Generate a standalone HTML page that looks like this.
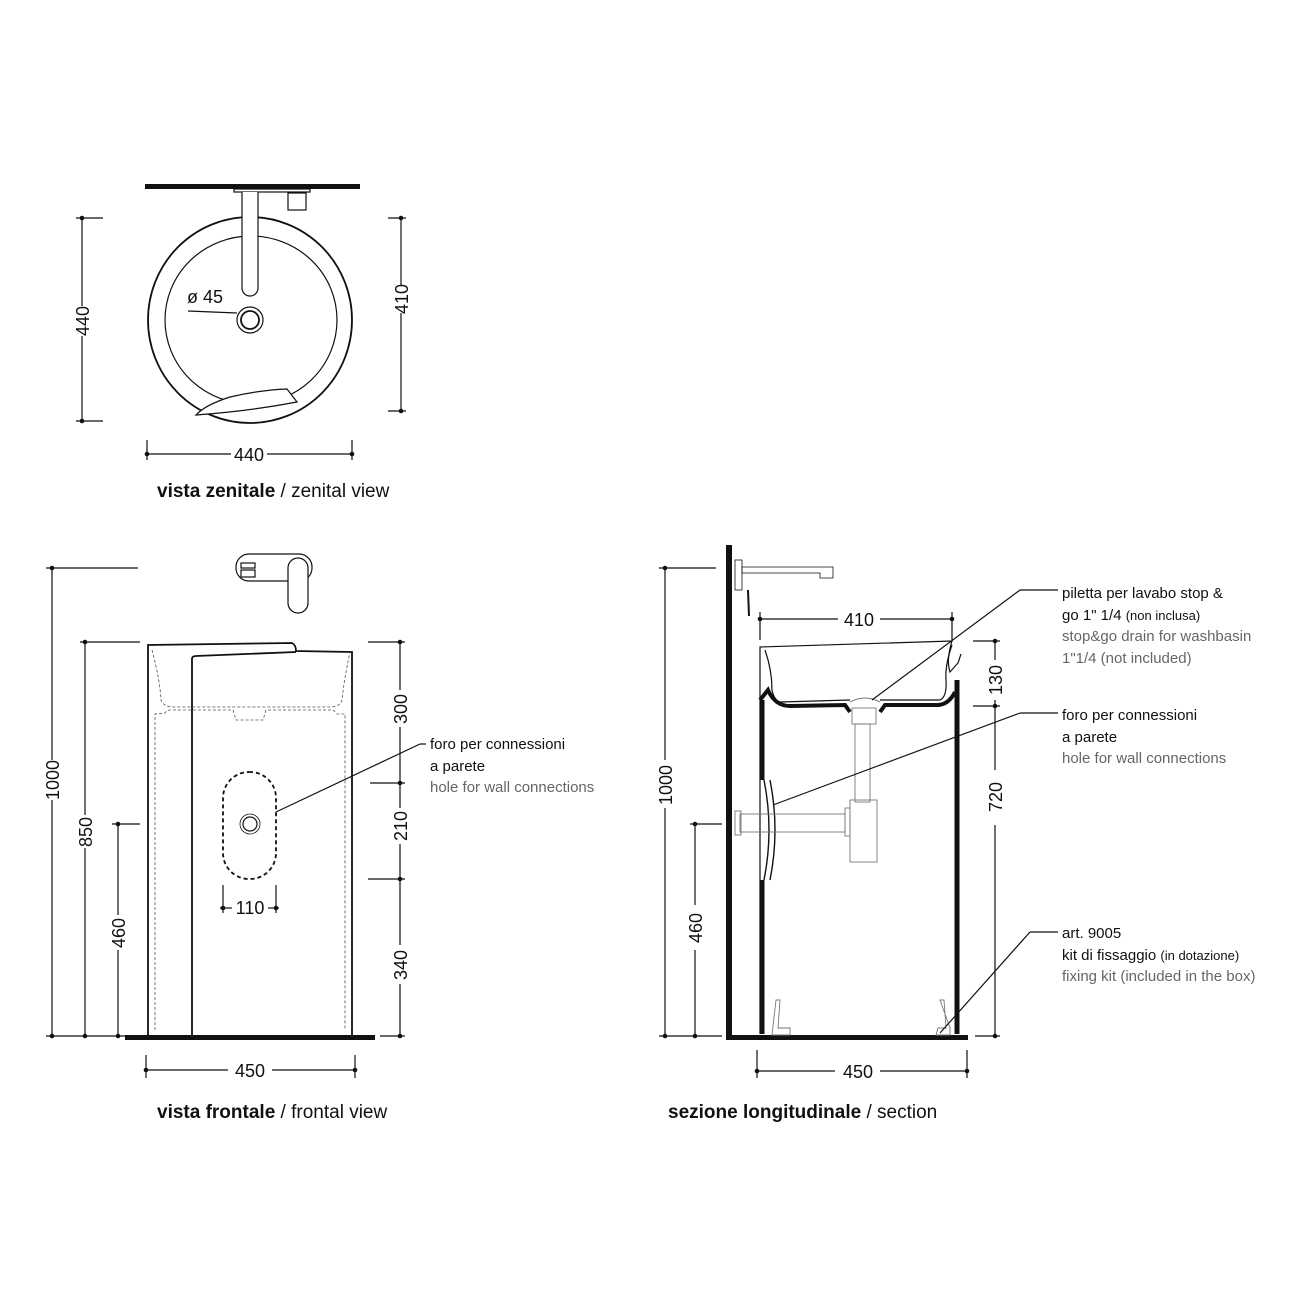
<!DOCTYPE html>
<html><head><meta charset="utf-8"><style>
html,body{margin:0;padding:0;background:#fff}
svg{display:block}
text{font-family:"Liberation Sans",sans-serif;fill:#111}
.d{font-size:18px}
.n{font-size:15px}
.g{fill:#666}
.c{font-size:19px}
</style></head><body>
<svg width="1300" height="1300" viewBox="0 0 1300 1300" xmlns="http://www.w3.org/2000/svg">
<defs>
<g id="dot"><circle r="2.5" fill="#111"/></g>
</defs>
<g stroke="#111" fill="none" stroke-width="1.2">
<!-- ===== TOP VIEW ===== -->
<rect x="145" y="184" width="215" height="5" fill="#111" stroke="none"/>
<rect x="234" y="189" width="76" height="3" fill="#fff"/>
<rect x="288" y="193" width="18" height="17" fill="#fff"/>
<ellipse cx="250" cy="320" rx="102" ry="103" stroke-width="1.8"/>
<ellipse cx="251" cy="320" rx="86" ry="84"/>
<path d="M242 192 V288 A8 8 0 0 0 258 288 V192" fill="#fff"/>
<circle cx="250" cy="320" r="13"/><circle cx="250" cy="320" r="9" stroke-width="1.8"/>
<line x1="188" y1="311" x2="237" y2="313"/>
<path d="M196 415 Q205 405 230 397 Q260 390 287 389 L297 402 Q250 411 196 415 Z" fill="#fff"/>
<!-- top dims -->
<line x1="82" y1="218" x2="82" y2="306"/><line x1="82" y1="336" x2="82" y2="421"/>
<line x1="76" y1="218" x2="103" y2="218"/><line x1="76" y1="421" x2="103" y2="421"/>
<line x1="401" y1="218" x2="401" y2="285"/><line x1="401" y1="313" x2="401" y2="411"/>
<line x1="388" y1="218" x2="406" y2="218"/><line x1="388" y1="411" x2="406" y2="411"/>
<line x1="147" y1="454" x2="231" y2="454"/><line x1="267" y1="454" x2="352" y2="454"/>
<line x1="147" y1="440" x2="147" y2="460"/><line x1="352" y1="440" x2="352" y2="460"/>

<!-- ===== FRONTAL VIEW ===== -->
<rect x="125" y="1035" width="250" height="5" fill="#111" stroke="none"/>
<rect x="236" y="554" width="76" height="27" rx="13" fill="#fff"/>
<rect x="241" y="563" width="14" height="5"/><rect x="241" y="570" width="14" height="7"/>
<rect x="288" y="558" width="20" height="55" rx="10" fill="#fff"/>
<path d="M148 1035 V645 L292 643 Q296 645 296 651 L352 652 V1035" stroke-width="1.8"/>
<path d="M192 1035 V659 Q192 656 196 656 L296 652" stroke-width="1.8"/>
<g stroke-dasharray="3 2" stroke-width="0.8" stroke="#555">
<path d="M152 650 Q160 680 161 700 Q163 707 175 707 H330 Q340 707 342 700 Q344 680 350 652"/>
<path d="M155 1030 V714 L165 713 Q167 710 170 710 L233 710 L236 720 H263 L266 710 H333 L337 714 L345 714 V1030"/>
</g>
<rect x="223" y="772" width="53" height="107" rx="26" stroke-dasharray="4 3" stroke-width="1.8"/>
<circle cx="250" cy="824" r="10" stroke-width="0.8"/><circle cx="250" cy="824" r="7"/>
<line x1="276" y1="812" x2="420" y2="744"/><line x1="420" y1="744" x2="426" y2="744"/>
<!-- frontal dims -->
<line x1="52" y1="568" x2="52" y2="760"/><line x1="52" y1="800" x2="52" y2="1036"/>
<line x1="46" y1="568" x2="138" y2="568"/>
<line x1="85" y1="642" x2="85" y2="815"/><line x1="85" y1="848" x2="85" y2="1036"/>
<line x1="80" y1="642" x2="140" y2="642"/>
<line x1="118" y1="824" x2="118" y2="915"/><line x1="118" y1="950" x2="118" y2="1036"/>
<line x1="112" y1="824" x2="140" y2="824"/>
<line x1="46" y1="1036" x2="125" y2="1036"/>
<line x1="400" y1="642" x2="400" y2="690"/><line x1="400" y1="727" x2="400" y2="808"/>
<line x1="400" y1="844" x2="400" y2="945"/><line x1="400" y1="984" x2="400" y2="1036"/>
<line x1="368" y1="642" x2="405" y2="642"/><line x1="370" y1="783" x2="405" y2="783"/>
<line x1="368" y1="879" x2="405" y2="879"/><line x1="380" y1="1036" x2="405" y2="1036"/>
<line x1="223" y1="885" x2="223" y2="913"/><line x1="276" y1="885" x2="276" y2="913"/>
<line x1="220" y1="908" x2="232" y2="908"/><line x1="268" y1="908" x2="279" y2="908"/>
<line x1="146" y1="1070" x2="228" y2="1070"/><line x1="272" y1="1070" x2="355" y2="1070"/>
<line x1="146" y1="1055" x2="146" y2="1078"/><line x1="355" y1="1055" x2="355" y2="1078"/>

<!-- ===== SECTION ===== -->
<rect x="726" y="545" width="6" height="495" fill="#111" stroke="none"/>
<rect x="726" y="1035" width="242" height="5" fill="#111" stroke="none"/>
<rect x="735" y="560" width="7" height="30" stroke-width="0.8"/>
<path d="M742 567 H833 V578 H820 V573 H742 Z" stroke-width="0.8"/>
<line x1="748" y1="590" x2="749" y2="616" stroke-width="2"/>
<!-- basin outline -->
<path d="M760 1034 V647 L952 641 Q946 660 950 672 L958 663 L961 654" stroke-width="1.2"/>
<path d="M765 650 Q772 670 772 690 Q774 700 780 702 L850 700 M880 700 L940 700 Q947 697 946 680 Q945 665 952 645" stroke-width="1.2"/>
<path d="M760 700 L768 690 Q775 706 790 706 L845 705 L850 712 M880 712 L885 705 L935 705 Q948 706 955 692" stroke="#111" stroke-width="4"/>
<path d="M762 700 V780" stroke-width="5"/>
<path d="M764 780 Q774 830 764 880 M770 780 Q780 830 770 880" stroke-width="1.4"/>
<path d="M762 880 V1034" stroke-width="5"/>
<path d="M957 680 V1034" stroke-width="5"/>
<!-- drain / trap -->
<g stroke="#777" stroke-width="0.9">
<path d="M850 702 Q865 694 880 702"/>
<rect x="852" y="708" width="24" height="16"/>
<rect x="855" y="724" width="15" height="78"/>
<rect x="850" y="800" width="27" height="62"/>
<rect x="845" y="808" width="5" height="28"/>
<rect x="740" y="814" width="105" height="18"/>
<rect x="735" y="811" width="6" height="24"/>
<path d="M776 1000 L780 1000 L778 1028 L790 1028 V1035 L772 1035 Z"/>
<path d="M940 1000 L944 1000 L946 1028 L938 1028 L936 1035 L950 1035 L950 1028 Z"/>
</g>
<line x1="872" y1="700" x2="1020" y2="590"/><line x1="1020" y1="590" x2="1058" y2="590"/>
<line x1="773" y1="805" x2="1020" y2="713"/><line x1="1020" y1="713" x2="1058" y2="713"/>
<line x1="940" y1="1033" x2="1030" y2="932"/><line x1="1030" y1="932" x2="1058" y2="932"/>
<!-- section dims -->
<line x1="665" y1="568" x2="665" y2="760"/><line x1="665" y1="808" x2="665" y2="1036"/>
<line x1="659" y1="568" x2="716" y2="568"/>
<line x1="695" y1="824" x2="695" y2="905"/><line x1="695" y1="950" x2="695" y2="1036"/>
<line x1="690" y1="824" x2="722" y2="824"/>
<line x1="659" y1="1036" x2="722" y2="1036"/>
<line x1="760" y1="619" x2="838" y2="619"/><line x1="880" y1="619" x2="952" y2="619"/>
<line x1="760" y1="612" x2="760" y2="640"/><line x1="952" y1="612" x2="952" y2="640"/>
<line x1="995" y1="641" x2="995" y2="660"/><line x1="995" y1="700" x2="995" y2="770"/>
<line x1="995" y1="825" x2="995" y2="1036"/>
<line x1="973" y1="641" x2="1000" y2="641"/><line x1="973" y1="706" x2="1000" y2="706"/>
<line x1="975" y1="1036" x2="1000" y2="1036"/>
<line x1="757" y1="1071" x2="835" y2="1071"/><line x1="880" y1="1071" x2="967" y2="1071"/>
<line x1="757" y1="1050" x2="757" y2="1078"/><line x1="967" y1="1050" x2="967" y2="1078"/>
</g>
<!-- dots -->
<g fill="#111">
<circle cx="82" cy="218" r="2.3"/><circle cx="82" cy="421" r="2.3"/>
<circle cx="401" cy="218" r="2.3"/><circle cx="401" cy="411" r="2.3"/>
<circle cx="147" cy="454" r="2.3"/><circle cx="352" cy="454" r="2.3"/>
<circle cx="52" cy="568" r="2.3"/><circle cx="52" cy="1036" r="2.3"/>
<circle cx="85" cy="642" r="2.3"/><circle cx="85" cy="1036" r="2.3"/>
<circle cx="118" cy="824" r="2.3"/><circle cx="118" cy="1036" r="2.3"/>
<circle cx="400" cy="642" r="2.3"/><circle cx="400" cy="783" r="2.3"/><circle cx="400" cy="879" r="2.3"/><circle cx="400" cy="1036" r="2.3"/>
<circle cx="223" cy="908" r="2.3"/><circle cx="276" cy="908" r="2.3"/>
<circle cx="146" cy="1070" r="2.3"/><circle cx="355" cy="1070" r="2.3"/>
<circle cx="665" cy="568" r="2.3"/><circle cx="665" cy="1036" r="2.3"/>
<circle cx="695" cy="824" r="2.3"/><circle cx="695" cy="1036" r="2.3"/>
<circle cx="760" cy="619" r="2.3"/><circle cx="952" cy="619" r="2.3"/>
<circle cx="995" cy="641" r="2.3"/><circle cx="995" cy="706" r="2.3"/><circle cx="995" cy="1036" r="2.3"/>
<circle cx="757" cy="1071" r="2.3"/><circle cx="967" cy="1071" r="2.3"/>
</g>
<!-- texts -->
<text class="d" x="187" y="303">ø 45</text>
<text class="d" x="249" y="461" text-anchor="middle">440</text>
<text class="d" transform="translate(89,321) rotate(-90)" text-anchor="middle">440</text>
<text class="d" transform="translate(408,299) rotate(-90)" text-anchor="middle">410</text>
<text class="c" x="157" y="497"><tspan font-weight="bold">vista zenitale</tspan> / zenital view</text>

<text class="d" transform="translate(59,780) rotate(-90)" text-anchor="middle">1000</text>
<text class="d" transform="translate(92,832) rotate(-90)" text-anchor="middle">850</text>
<text class="d" transform="translate(125,933) rotate(-90)" text-anchor="middle">460</text>
<text class="d" transform="translate(407,709) rotate(-90)" text-anchor="middle">300</text>
<text class="d" transform="translate(407,826) rotate(-90)" text-anchor="middle">210</text>
<text class="d" transform="translate(407,965) rotate(-90)" text-anchor="middle">340</text>
<text class="d" x="250" y="914" text-anchor="middle">110</text>
<text class="d" x="250" y="1077" text-anchor="middle">450</text>
<text class="n" x="430" y="749">foro per connessioni</text>
<text class="n" x="430" y="771">a parete</text>
<text class="n g" x="430" y="792">hole for wall connections</text>
<text class="c" x="157" y="1118"><tspan font-weight="bold">vista frontale</tspan> / frontal view</text>

<text class="d" transform="translate(672,785) rotate(-90)" text-anchor="middle">1000</text>
<text class="d" transform="translate(702,928) rotate(-90)" text-anchor="middle">460</text>
<text class="d" x="859" y="626" text-anchor="middle">410</text>
<text class="d" transform="translate(1002,680) rotate(-90)" text-anchor="middle">130</text>
<text class="d" transform="translate(1002,797) rotate(-90)" text-anchor="middle">720</text>
<text class="d" x="858" y="1078" text-anchor="middle">450</text>
<text class="n" x="1062" y="598">piletta per lavabo stop &amp;</text>
<text class="n" x="1062" y="620">go 1" 1/4 <tspan font-size="13">(non inclusa)</tspan></text>
<text class="n g" x="1062" y="641" font-size="14">stop&amp;go drain for washbasin</text>
<text class="n g" x="1062" y="663" font-size="14">1"1/4 (not included)</text>
<text class="n" x="1062" y="720">foro per connessioni</text>
<text class="n" x="1062" y="742">a parete</text>
<text class="n g" x="1062" y="763">hole for wall connections</text>
<text class="n" x="1062" y="938">art. 9005</text>
<text class="n" x="1062" y="960">kit di fissaggio <tspan font-size="13">(in dotazione)</tspan></text>
<text class="n g" x="1062" y="981" font-size="14">fixing kit (included in the box)</text>
<text class="c" x="668" y="1118"><tspan font-weight="bold">sezione longitudinale</tspan> / section</text>
</svg>
</body></html>
